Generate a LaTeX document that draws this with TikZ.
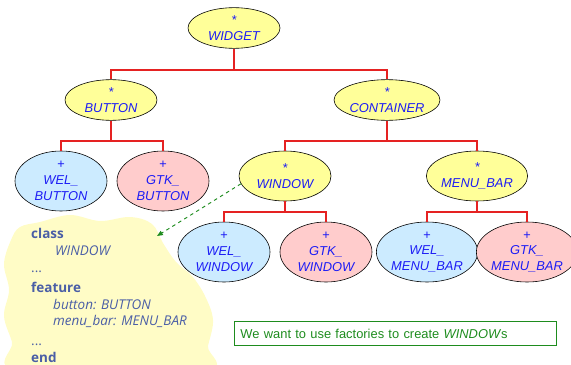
\documentclass[tikz,border=0pt]{standalone}
\usepackage{fontspec}
\setmainfont{Liberation Sans}
\newfontfamily\codefont{Open Sans}
\usetikzlibrary{shapes.geometric,arrows.meta}

\definecolor{classblue}{HTML}{1C1CF5}
\definecolor{codeblue}{HTML}{4A5EA6}
\definecolor{deferyellow}{HTML}{FFFF99}
\definecolor{welblue}{HTML}{CCEBFF}
\definecolor{gtkpink}{HTML}{FFCCCC}
\definecolor{treered}{HTML}{E52222}
\definecolor{notegreen}{HTML}{1E8C1E}
\definecolor{cloudyellow}{HTML}{FFFCC6}

\tikzset{
  cls/.style={ellipse, draw=black, line width=0.5pt, inner sep=0pt,
    minimum width=2.76cm, align=center, text=classblue,
    font=\fontsize{11}{13.5}\selectfont\itshape},
  deferred/.style={cls, fill=deferyellow, minimum height=1.22cm},
  wel/.style={cls, fill=welblue, minimum height=1.8cm},
  gtk/.style={cls, fill=gtkpink, minimum height=1.8cm},
  inherit/.style={draw=treered, line width=0.9pt},
  code/.style={anchor=base west, inner sep=0pt, text=codeblue,
    font=\codefont\fontsize{11.5}{13}\selectfont},
}

\begin{document}
\begin{tikzpicture}[x=0.03cm, y=-0.03cm]
  \useasboundingbox (0,0) rectangle (571,364);

  % class text in its cloud
  \begin{scope}
    \clip (0,0) rectangle (571,364);
    \fill[cloudyellow] plot[smooth cycle, tension=0.6] coordinates {
      (40,222) (70,215) (100,221) (130,217) (152,224) (163,243)
      (176,262) (192,276) (205,296) (213,320) (208,346) (202,372)
      (20,372) (12,342) (4,316) (9,290) (4,264) (11,240) (20,227)};
  \end{scope}
  \node[code] at (31,238) (kwclass) {\bfseries class};
  \node[code] at (55,255) (clsname) {\itshape WINDOW};
  \node[code] at (31,272) (dots1) {...};
  \node[code] at (31,292) (kwfeature) {\bfseries feature};
  \node[code] at (53,309) (featbutton) {\itshape button: BUTTON};
  \node[code] at (53,325) (featmenu) {\itshape menu\_bar: MENU\_BAR};
  \node[code] at (31,345) (dots2) {...};
  \node[code] at (31,362) (kwend) {\bfseries end};

  % hierarchy
  \node[deferred] at (234,28) (widget) {*\\WIDGET};
  \node[deferred] at (111,100) (button) {*\\BUTTON};
  \node[deferred] at (387,100) (container) {*\\CONTAINER};
  \node[wel] at (61,181) (welbutton) {+\\WEL\_\\BUTTON};
  \node[gtk] at (163,181) (gtkbutton) {+\\GTK\_\\BUTTON};
  \node[deferred, minimum height=1.5cm] at (285,176) (window) {*\\WINDOW};
  \node[deferred, minimum height=1.5cm] at (477,176) (menubar) {*\\MENU\_BAR};
  \node[wel] at (224,252) (welwindow) {+\\WEL\_\\WINDOW};
  \node[gtk] at (326,252) (gtkwindow) {+\\GTK\_\\WINDOW};
  \node[wel] at (427,252) (welmenubar) {+\\WEL\_\\MENU\_BAR};
  \node[gtk] at (527,252) (gtkmenubar) {+\\GTK\_\\MENU\_BAR};

  \draw[inherit] (widget.south) |- (button.north |- 0,70) -- (button.north);
  \draw[inherit] (widget.south) |- (container.north |- 0,70) -- (container.north);
  \draw[inherit] (button.south) |- (welbutton.north |- 0,141) -- (welbutton.north);
  \draw[inherit] (button.south) |- (gtkbutton.north |- 0,141) -- (gtkbutton.north);
  \draw[inherit] (container.south) |- (window.north |- 0,141) -- (window.north);
  \draw[inherit] (container.south) |- (menubar.north |- 0,141) -- (menubar.north);
  \draw[inherit] (window.south) |- (welwindow.north |- 0,212) -- (welwindow.north);
  \draw[inherit] (window.south) |- (gtkwindow.north |- 0,212) -- (gtkwindow.north);
  \draw[inherit] (menubar.south) |- (welmenubar.north |- 0,212) -- (welmenubar.north);
  \draw[inherit] (menubar.south) |- (gtkmenubar.north |- 0,212) -- (gtkmenubar.north);

  \coordinate (cloudtip) at (157,236);
  \draw[notegreen, dashed, line width=0.8pt, -{Triangle[length=5pt,width=4pt]}]
    (window.190) -- (cloudtip);

  \node[draw=notegreen, line width=0.8pt, text=notegreen, anchor=north west,
    minimum width=9.66cm, minimum height=0.72cm, text width=9.3cm,
    inner xsep=0.18cm, font=\fontsize{11}{13}\selectfont] at (234,321) (note)
    {We want to use factories to create \textit{WINDOW}s};
\end{tikzpicture}
\end{document}
